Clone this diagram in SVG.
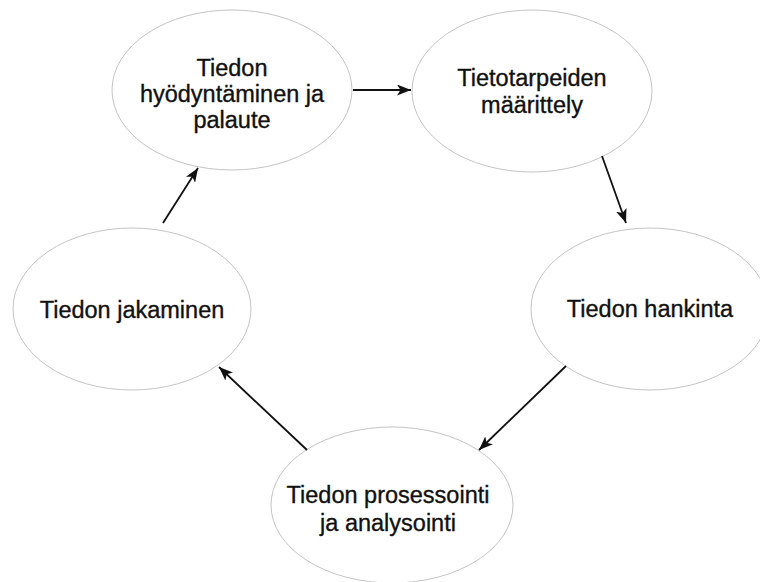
<svg xmlns="http://www.w3.org/2000/svg" width="760" height="582" viewBox="0 0 760 582">
<defs>
<style>
.node ellipse{fill:#ffffff;stroke:#c4c4c4;stroke-width:1}
.node text{font-family:"Liberation Sans",Arial,Helvetica,sans-serif;font-size:23.5px;fill:#111111;stroke:#111111;stroke-width:0.35;text-anchor:middle}
.edge{stroke:#111111;stroke-width:1.8;fill:none;marker-end:url(#arrow)}
</style>
<marker id="arrow" viewBox="0 0 14 11" refX="14" refY="5.5" markerWidth="14" markerHeight="11" markerUnits="userSpaceOnUse" orient="auto">
<path d="M0,0 L14,5.5 L0,11 L3.5,5.5 Z" fill="#111111"/>
</marker>
</defs>
<rect width="760" height="582" fill="#ffffff"/>
<g id="n1" class="node">
<ellipse cx="232" cy="90" rx="120" ry="80"/>
<text x="232" y="76">Tiedon</text>
<text x="232" y="102">hyödyntäminen ja</text>
<text x="232" y="128">palaute</text>
</g>
<g id="n2" class="node">
<ellipse cx="532" cy="91" rx="120" ry="81"/>
<text x="532" y="86">Tietotarpeiden</text>
<text x="532" y="113">määrittely</text>
</g>
<g id="n3" class="node">
<ellipse cx="650" cy="309" rx="119" ry="81"/>
<text x="650" y="317">Tiedon hankinta</text>
</g>
<g id="n4" class="node">
<ellipse cx="132" cy="309" rx="119" ry="81"/>
<text x="132" y="318">Tiedon jakaminen</text>
</g>
<g id="n5" class="node">
<ellipse cx="392" cy="505" rx="121" ry="78"/>
<text x="388" y="503">Tiedon prosessointi</text>
<text x="388" y="531">ja analysointi</text>
</g>
<g id="edges">
<line class="edge" x1="353" y1="90" x2="411" y2="90"/>
<line class="edge" x1="602" y1="156" x2="626" y2="223"/>
<line class="edge" x1="566" y1="366" x2="479" y2="450"/>
<line class="edge" x1="307" y1="450" x2="219" y2="367"/>
<line class="edge" x1="163" y1="223" x2="198" y2="168"/>
</g>
</svg>
